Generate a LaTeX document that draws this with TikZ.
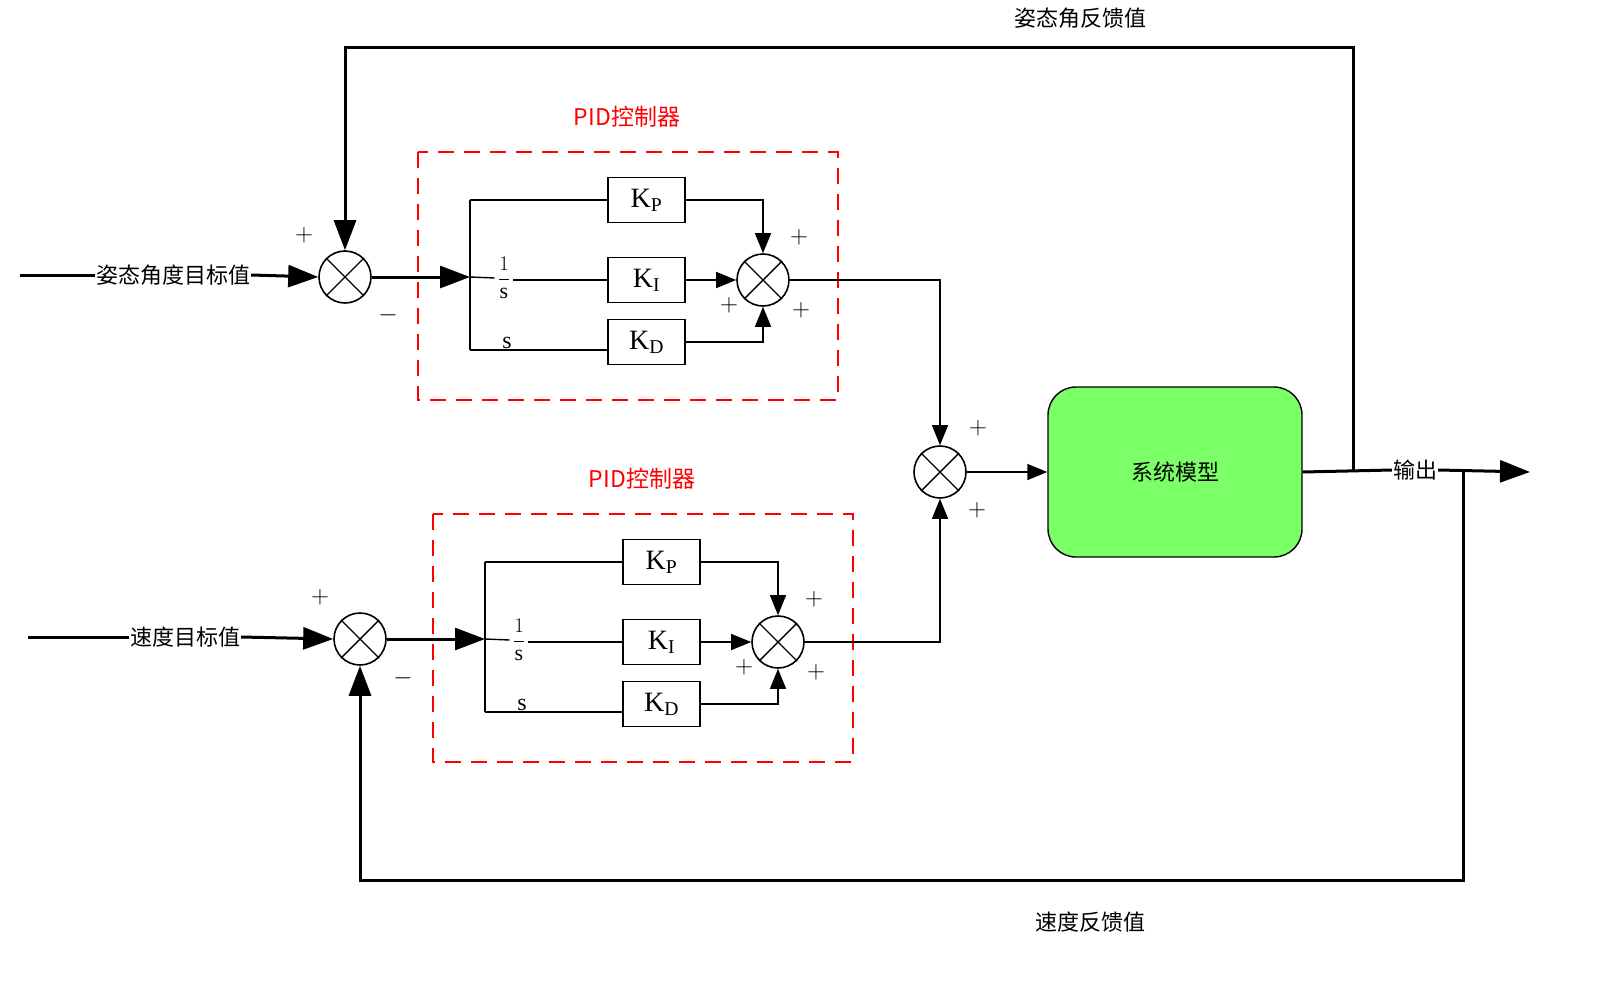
\documentclass[tikz,border=0pt]{standalone}
\usepackage{fontspec}
\setmainfont{Liberation Serif}
\newfontfamily\cjk{Noto Sans CJK SC}
\usetikzlibrary{arrows.meta}
\begin{document}
\begin{tikzpicture}[x=1pt,y=-1pt,
  big/.style={line width=3pt,-{Triangle[length=30pt,width=22pt]}},
  thk/.style={line width=3pt},
  sm/.style={line width=1.4pt,-{Triangle[length=20pt,width=16pt]}},
  thn/.style={line width=1.4pt},
  sum/.style={circle,draw,line width=1.6pt,minimum size=52pt,inner sep=0pt},
  gain/.style={draw,line width=1.6pt,minimum width=77pt,minimum height=45pt,inner sep=0pt,font=\fontsize{28}{30}\selectfont},
  cn/.style={font=\cjk\fontsize{22}{24}\selectfont},
  pm/.style={font=\fontsize{26}{28}\selectfont},
  lbl/.style={font=\cjk\fontsize{23}{25}\selectfont,text=red}]
\useasboundingbox (0,0) rectangle (1598,982);
\begin{scope}[overlay]
\newcommand\xsum[1]{\draw[line width=1.4pt] (#1.45)--(#1.225) (#1.135)--(#1.315);}
\newcommand\pidblock[3]{%
 \begin{scope}[shift={(#2,#3)}]
  \draw[red,line width=1.6pt,dash pattern=on 16pt off 10pt] (418,152) rectangle (838,400);
  \node[lbl] (#1lab) at (627,117) {PID控制器};
  \node[gain] (#1kp) at (646.5,200) {K$_{\mathrm P}$};
  \node[gain] (#1ki) at (646.5,280) {K$_{\mathrm I}$};
  \node[gain] (#1kd) at (646.5,342) {K$_{\mathrm D}$};
  \node[sum] (#1s) at (763,280) {};
  \coordinate (#1in) at (470,277);
  \coordinate (#1top) at (470,200);
  \coordinate (#1bot) at (470,350);
  \coordinate (#1kdl) at (608,350);
  \node[font=\fontsize{22}{24}\selectfont] (#1frac) at (504,278) {$\displaystyle\frac{1}{\mathrm s}$};
  \node[font=\fontsize{24}{26}\selectfont,inner sep=0pt] (#1ds) at (507,343) {s};
  \draw[thn] (#1top)--(#1bot);
  \draw[thn] (#1top)--(#1kp.west);
  \draw[thn] (#1in)--(#1frac.west);
  \draw[thn] (#1frac.east|-#1ki.west)--(#1ki.west);
  \draw[thn] (#1bot)--(#1kdl);
  \draw[sm] (#1kp.east)-|(#1s.north);
  \draw[sm] (#1ki.east)--(#1s.west);
  \draw[sm] (#1kd.east)-|(#1s.south);
  \node[pm] (#1p1) at (799,237) {$+$};
  \node[pm] (#1p2) at (729,305) {$+$};
  \node[pm] (#1p3) at (801,310) {$+$};
 \end{scope}
 \xsum{#1s}}
\pidblock{a}{0}{0}
\pidblock{b}{15}{362}
% top input
\node[sum] (s1) at (345,277) {};\xsum{s1}
\node[cn,fill=white,inner sep=1pt] (t1) at (173,275) {姿态角度目标值};
\coordinate (i1) at (20,275);
\draw[thk] (i1)--(t1.west);
\draw[big] (t1.east)--(s1.west);
\draw[big] (s1.east)--(ain);
\node[pm] at (304,235) {$+$};
\node[pm] at (388,315) {$-$};
% bottom input
\node[sum] (s4) at (360,639) {};\xsum{s4}
\node[cn,fill=white,inner sep=1pt] (t2) at (185,637) {速度目标值};
\coordinate (i2) at (28,637);
\draw[thk] (i2)--(t2.west);
\draw[big] (t2.east)--(s4.west);
\draw[big] (s4.east)--(bin);
\node[pm] at (320,597) {$+$};
\node[pm] at (403,678) {$-$};
% combiner
\node[sum] (s3) at (940,472) {};\xsum{s3}
\draw[sm] (as.east)-|(s3.north);
\draw[sm] (bs.east)-|(s3.south);
\node[pm] at (978,428) {$+$};
\node[pm] at (977,510) {$+$};
\node[draw,rounded corners=28pt,fill=green!55!white!90!lime,line width=1.4pt,minimum width=254pt,minimum height=170pt,cn] (sys) at (1175,472) {系统模型};
\draw[sm] (s3.east)--(sys.west);
\coordinate (out) at (1530,472);
\node[cn,fill=white,inner sep=1pt] (ol) at (1415,470) {输出};
\draw[thk] (sys.east)--(ol.west);
\draw[big] (ol.east)--(out);
% feedbacks
\coordinate (f1) at (1353,472);
\coordinate (f1t) at (1353,48);
\draw[big] (f1)--(f1t)-|(s1.north);
\node[cn] at (1080,18) {姿态角反馈值};
\coordinate (f2) at (1463,472);
\coordinate (f2b) at (1463,880);
\draw[big] (f2)--(f2b)-|(s4.south);
\node[cn] at (1090,922) {速度反馈值};
\end{scope}
\end{tikzpicture}
\end{document}
